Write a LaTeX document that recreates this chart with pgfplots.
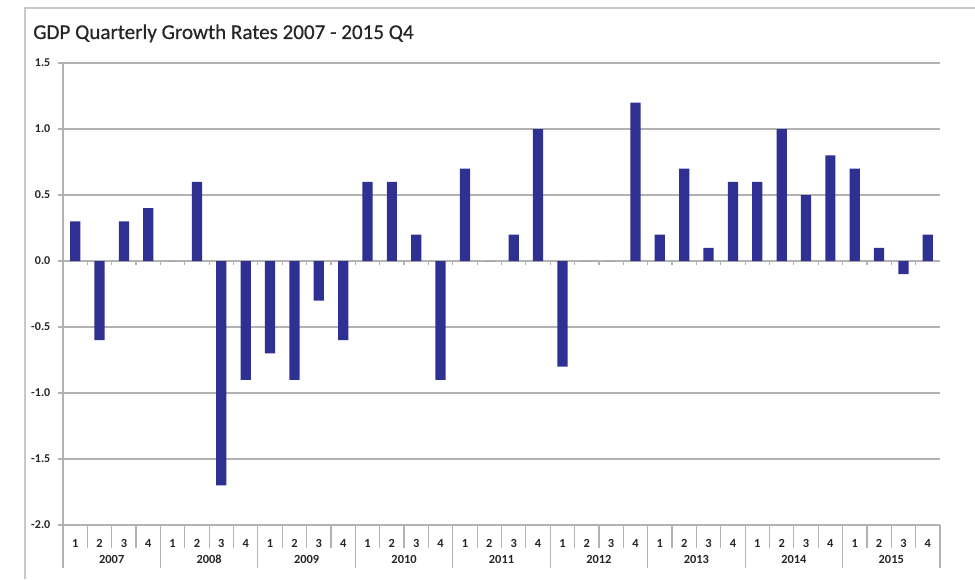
\documentclass[border=0pt]{standalone}
\usepackage{pgfplots}
\pgfplotsset{compat=1.18}
\usepackage{fontspec}
\setmainfont{Carlito}
\newfontfamily\titlefont[FakeBold=0.6]{Carlito}
\definecolor{barblue}{RGB}{46,49,146}
\definecolor{gridgray}{RGB}{178,178,178}
\definecolor{framegray}{RGB}{200,200,200}
\begin{document}
\begin{tikzpicture}
\path[use as bounding box] (0,0) rectangle (731.25pt,434.25pt);
% chart frame
\draw[framegray, line width=1.6pt] (18.75pt,0) -- (18.75pt,428.25pt) -- (731.25pt,428.25pt);
% title
\node[anchor=base west, text=black!85, inner sep=0pt] at (24.75pt,405pt) {\titlefont\fontsize{15.8}{19}\selectfont GDP Quarterly Growth Rates 2007 - 2015 Q4};
\begin{axis}[
  at={(47.25pt,40.5pt)}, anchor=south west,
  scale only axis, width=657.75pt, height=346.5pt,
  xmin=0, xmax=36, ymin=-2, ymax=1.5,
  axis line style={draw=none},
  tick align=outside,
  clip=false,
  ytick={-2,-1.5,...,1.5},
  ytick pos=left,
  ymajorgrids, grid style={gridgray, line width=0.9pt},
  yticklabel style={/pgf/number format/fixed, /pgf/number format/fixed zerofill, /pgf/number format/precision=1, /pgf/number format/assume math mode=true},
  yticklabel style={font=\bfseries\fontsize{9}{10}\selectfont, text=black!85, xshift=-2pt},
  ytick style={gridgray, line width=0.9pt},
  major tick length=4pt,
  xtick={0.5,1.5,...,35.5},
  xticklabels={1,2,3,4,1,2,3,4,1,2,3,4,1,2,3,4,1,2,3,4,1,2,3,4,1,2,3,4,1,2,3,4,1,2,3,4},
  xticklabel style={font=\bfseries\fontsize{9.3}{10}\selectfont, text=black!85, anchor=base, yshift=-13pt},
  xtick style={draw=none},
]
\draw[gridgray, line width=0.9pt] (axis cs:0,-2) -- (axis cs:0,1.5);
\addplot[ybar, bar width=0.42, fill=barblue, draw=none] coordinates {
(0.5,0.3) (1.5,-0.6) (2.5,0.3) (3.5,0.4)
(4.5,0) (5.5,0.6) (6.5,-1.7) (7.5,-0.9)
(8.5,-0.7) (9.5,-0.9) (10.5,-0.3) (11.5,-0.6)
(12.5,0.6) (13.5,0.6) (14.5,0.2) (15.5,-0.9)
(16.5,0.7) (17.5,0) (18.5,0.2) (19.5,1.0)
(20.5,-0.8) (21.5,0) (22.5,0) (23.5,1.2)
(24.5,0.2) (25.5,0.7) (26.5,0.1) (27.5,0.6)
(28.5,0.6) (29.5,1.0) (30.5,0.5) (31.5,0.8)
(32.5,0.7) (33.5,0.1) (34.5,-0.1) (35.5,0.2)
};
\pgfplotsinvokeforeach{1,...,35}{\draw[gridgray, line width=0.9pt] (axis cs:#1,0) -- ([yshift=-3pt]axis cs:#1,0);}
\pgfplotsinvokeforeach{1,2,3,5,6,7,9,10,11,13,14,15,17,18,19,21,22,23,25,26,27,29,30,31,33,34,35}{\draw[gridgray, line width=0.9pt] (axis cs:#1,-2) -- ([yshift=-17.25pt]axis cs:#1,-2);}
\pgfplotsinvokeforeach{0,4,8,12,16,20,24,28,32,36}{\draw[gridgray, line width=0.9pt] (axis cs:#1,-2) -- ([yshift=-32.25pt]axis cs:#1,-2);}
\pgfplotsinvokeforeach{2007,...,2015}{%
  \node[anchor=base, font=\bfseries\fontsize{9.3}{10}\selectfont, text=black!85] at (axis cs:{(#1-2007)*4+2},-2) [yshift=-28.5pt] {#1};}
\end{axis}
\end{tikzpicture}
\end{document}
